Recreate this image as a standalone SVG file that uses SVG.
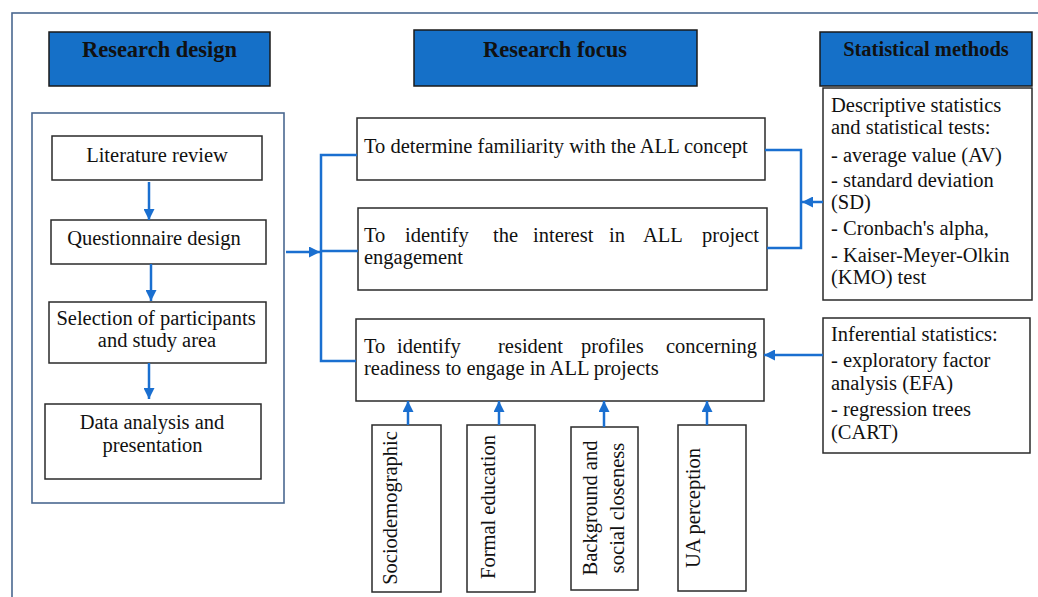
<svg xmlns="http://www.w3.org/2000/svg" width="1038" height="597" viewBox="0 0 1038 597">
<style>
.frame{fill:none;stroke:#4a6890;stroke-width:1.6}
.hdr{fill:#1570c8;stroke:#1a1a1a;stroke-width:1.5}
.box{fill:#fff;stroke:#2a2a2a;stroke-width:1.5}
.t{font-family:"Liberation Serif","Times New Roman",serif;font-size:20.5px;fill:#111}
.h{font-family:"Liberation Serif","Times New Roman",serif;font-weight:bold;fill:#111}
.c{text-anchor:middle}
.e{text-anchor:end}
.conn{fill:none;stroke:#1a6fd0;stroke-width:2.5}
</style>
<defs>
<marker id="ah" viewBox="0 0 10 10" refX="10" refY="5" markerWidth="11" markerHeight="11" markerUnits="userSpaceOnUse" orient="auto">
<path d="M0,0 L10,5 L0,10 z" fill="#1a6fd0"/>
</marker>
</defs>
<rect x="0" y="0" width="1038" height="597" fill="#fff"/>
<rect class="frame" x="12" y="13" width="1040" height="600"/>
<rect class="frame" x="32" y="113" width="252" height="390"/>

<g id="hdr-design"><rect class="hdr" x="49" y="32" width="221" height="54"/><text class="h c" x="159.5" y="57" font-size="22.5">Research design</text></g>
<g id="hdr-focus"><rect class="hdr" x="414" y="30" width="283" height="56"/><text class="h c" x="555" y="57" font-size="22.5">Research focus</text></g>
<g id="hdr-stats"><rect class="hdr" x="820" y="32" width="212" height="54"/><text class="h c" x="926" y="56" font-size="20.5">Statistical methods</text></g>

<g id="lit"><rect class="box" x="52" y="136" width="210" height="44"/><text class="t c" x="157" y="162">Literature review</text></g>
<g id="quest"><rect class="box" x="51" y="220" width="215" height="44"/><text class="t c" x="154" y="245">Questionnaire design</text></g>
<g id="sel"><rect class="box" x="49" y="302" width="217" height="61"/><text class="t c" x="156" y="325">Selection of participants</text><text class="t c" x="157" y="347">and study area</text></g>
<g id="data"><rect class="box" x="45" y="404" width="216" height="75"/><text class="t c" x="152" y="429">Data analysis and</text><text class="t c" x="152.5" y="452">presentation</text></g>

<g id="focus1"><rect class="box" x="357" y="118" width="408" height="62"/><text class="t" x="364" y="153">To determine familiarity with the ALL concept</text></g>
<g id="focus2"><rect class="box" x="358" y="208" width="409" height="82"/>
<text class="t" x="364" y="242">To</text><text class="t" x="405" y="242">identify</text><text class="t" x="493" y="242">the</text><text class="t" x="533" y="242">interest</text><text class="t" x="609" y="242">in</text><text class="t" x="643" y="242">ALL</text><text class="t e" x="759" y="242">project</text>
<text class="t" x="364" y="264">engagement</text></g>
<g id="focus3"><rect class="box" x="356" y="319" width="408" height="82"/>
<text class="t" x="364" y="353">To</text><text class="t" x="397" y="353">identify</text><text class="t" x="498" y="353">resident</text><text class="t" x="581" y="353">profiles</text><text class="t e" x="757" y="353">concerning</text>
<text class="t" x="364" y="375">readiness to engage in ALL projects</text></g>

<g id="desc"><rect class="box" x="823" y="88" width="209" height="212"/>
<text class="t" x="831" y="112">Descriptive statistics</text>
<text class="t" x="831" y="134">and statistical tests:</text>
<text class="t" x="831" y="162">- average value (AV)</text>
<text class="t" x="831" y="187">- standard deviation</text>
<text class="t" x="831" y="209">(SD)</text>
<text class="t" x="831" y="235">- Cronbach's alpha,</text>
<text class="t" x="831" y="262">- Kaiser-Meyer-Olkin</text>
<text class="t" x="831" y="284">(KMO) test</text></g>
<g id="infer"><rect class="box" x="823" y="318" width="207" height="135"/>
<text class="t" x="831" y="341">Inferential statistics:</text>
<text class="t" x="831" y="367">- exploratory factor</text>
<text class="t" x="831" y="390">analysis (EFA)</text>
<text class="t" x="831" y="416">- regression trees</text>
<text class="t" x="831" y="439">(CART)</text></g>

<g id="f-socio"><rect class="box" x="372" y="425" width="69" height="167"/><text class="t c" x="397" y="508" transform="rotate(-90 397 508)">Sociodemographic</text></g>
<g id="f-edu"><rect class="box" x="467" y="425" width="68" height="167"/><text class="t c" x="495" y="507" transform="rotate(-90 495 507)">Formal education</text></g>
<g id="f-back"><rect class="box" x="571" y="427" width="67" height="163"/><text class="t c" x="597" y="508" transform="rotate(-90 597 508)">Background and</text><text class="t c" x="624" y="508" transform="rotate(-90 624 508)">social closeness</text></g>
<g id="f-ua"><rect class="box" x="678" y="425" width="68" height="166"/><text class="t c" x="700" y="508" transform="rotate(-90 700 508)">UA perception</text></g>

<g id="connectors">
<line class="conn" x1="149" y1="182" x2="149" y2="220" marker-end="url(#ah)"/>
<line class="conn" x1="151" y1="264" x2="151" y2="301" marker-end="url(#ah)"/>
<line class="conn" x1="149" y1="363" x2="149" y2="399" marker-end="url(#ah)"/>
<line class="conn" x1="286" y1="252" x2="320" y2="252" marker-end="url(#ah)"/>
<polyline class="conn" points="357,155 321,155 321,361 356,361"/>
<line class="conn" x1="321" y1="251" x2="358" y2="251"/>
<polyline class="conn" points="765,150 801,150 801,248 767,248"/>
<line class="conn" x1="823" y1="202" x2="802" y2="202" marker-end="url(#ah)"/>
<line class="conn" x1="823" y1="355" x2="764" y2="355" marker-end="url(#ah)"/>
<line class="conn" x1="408" y1="425" x2="408" y2="401" marker-end="url(#ah)"/>
<line class="conn" x1="499" y1="425" x2="499" y2="401" marker-end="url(#ah)"/>
<line class="conn" x1="604" y1="427" x2="604" y2="401" marker-end="url(#ah)"/>
<line class="conn" x1="707" y1="425" x2="707" y2="401" marker-end="url(#ah)"/>
</g>
</svg>
